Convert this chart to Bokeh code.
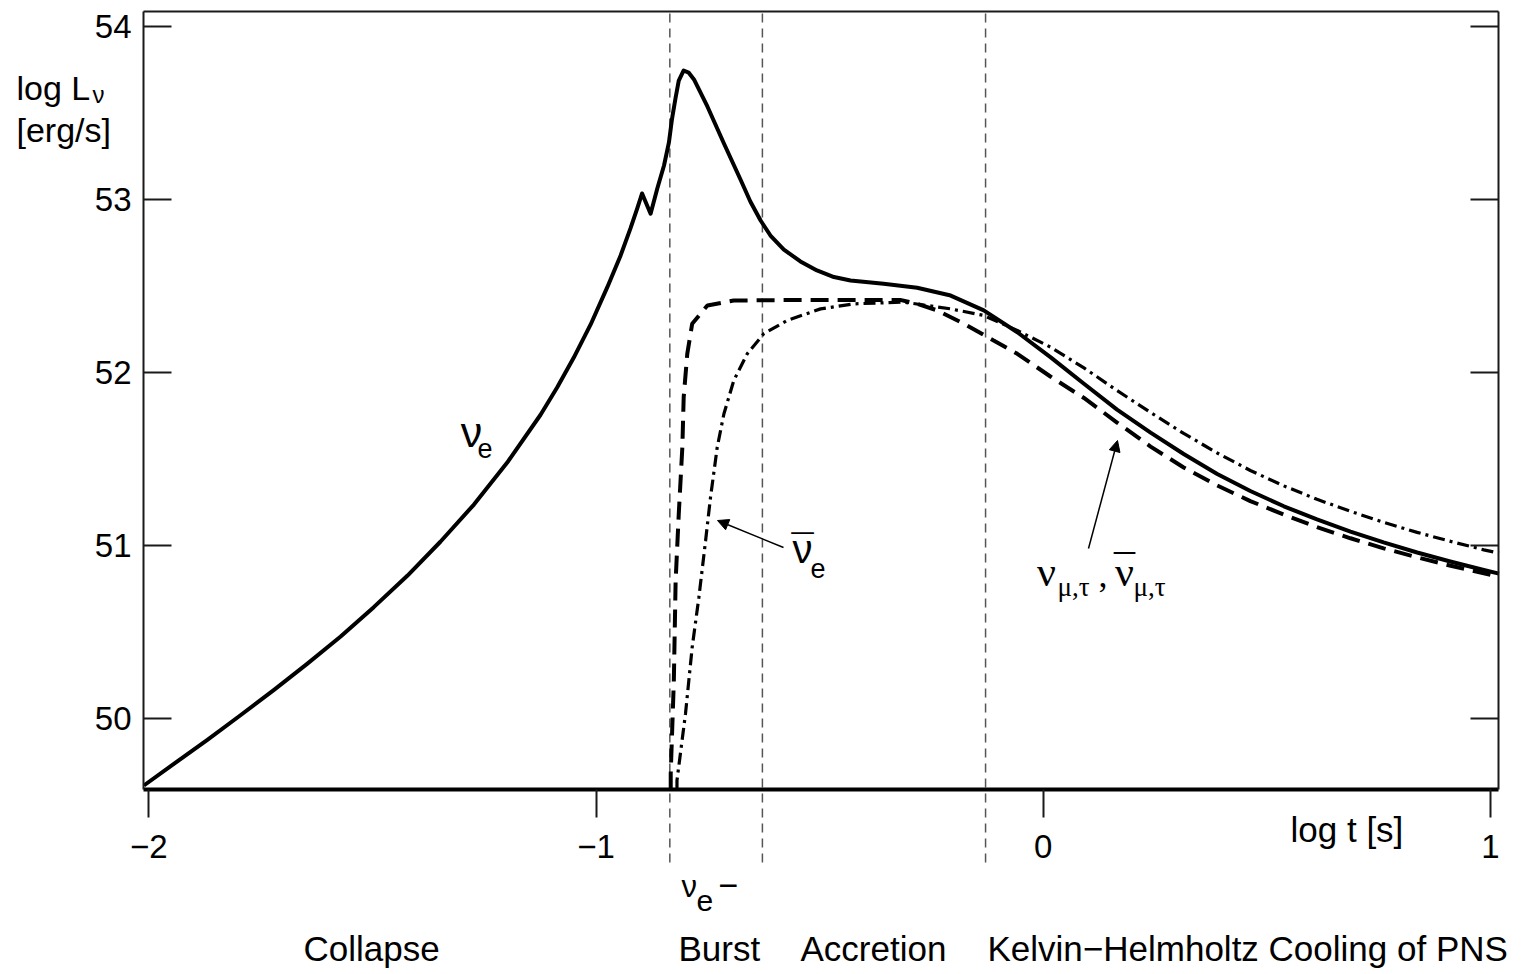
from bokeh.plotting import figure
from bokeh.models import Range1d, LinearAxis, FixedTicker, Label, Arrow, NormalHead
from bokeh.embed import file_html
from bokeh.resources import INLINE

# ---------------- data (log t [s], log L [erg/s]) ----------------
t_nue = [-2.011, -1.944, -1.869, -1.795, -1.720, -1.646, -1.571, -1.497, -1.422, -1.348,
         -1.273, -1.199, -1.124, -1.087, -1.050, -1.012, -0.975, -0.945, -0.923, -0.908,
         -0.897, -0.878, -0.863, -0.848, -0.837, -0.830, -0.822, -0.815, -0.804, -0.793,
         -0.781, -0.751, -0.714, -0.677, -0.655, -0.632, -0.610, -0.580, -0.543, -0.506,
         -0.468, -0.431, -0.357, -0.282, -0.207, -0.133, -0.058, 0.016, 0.091, 0.165,
         0.240, 0.314, 0.389, 0.463, 0.538, 0.612, 0.687, 0.761, 0.836, 0.910,
         0.985, 1.019]
L_nue = [49.611, 49.736, 49.875, 50.017, 50.164, 50.314, 50.472, 50.642, 50.823, 51.020,
         51.235, 51.476, 51.754, 51.912, 52.083, 52.276, 52.490, 52.675, 52.831, 52.946,
         53.033, 52.916, 53.062, 53.195, 53.328, 53.466, 53.588, 53.686, 53.744, 53.732,
         53.692, 53.536, 53.322, 53.114, 52.987, 52.877, 52.790, 52.709, 52.640, 52.588,
         52.550, 52.530, 52.511, 52.488, 52.443, 52.357, 52.231, 52.087, 51.933, 51.784,
         51.651, 51.527, 51.412, 51.313, 51.225, 51.149, 51.079, 51.016, 50.958, 50.906,
         50.857, 50.836]

t_numu = [-0.833, -0.833, -0.826, -0.822, -0.815, -0.807, -0.804, -0.796, -0.785, -0.751,
          -0.692, -0.543, -0.320, -0.282, -0.237, -0.170, -0.111, -0.058, 0.016, 0.091,
          0.165, 0.240, 0.314, 0.389, 0.463, 0.538, 0.612, 0.687, 0.761, 0.836,
          0.911, 0.985, 1.018]
L_numu = [49.588, 49.679, 50.218, 50.796, 51.181, 51.566, 51.855, 52.106, 52.280, 52.386,
          52.414, 52.418, 52.418, 52.395, 52.357, 52.270, 52.183, 52.106, 51.975, 51.851,
          51.709, 51.570, 51.449, 51.345, 51.255, 51.177, 51.104, 51.040, 50.982, 50.930,
          50.881, 50.838, 50.818]

t_nuebar = [-0.819, -0.819, -0.800, -0.785, -0.770, -0.755, -0.744, -0.729, -0.714, -0.692,
            -0.662, -0.625, -0.573, -0.498, -0.424, -0.312, -0.207, -0.133, -0.058, 0.016,
            0.091, 0.165, 0.240, 0.314, 0.389, 0.463, 0.538, 0.612, 0.687, 0.761,
            0.836, 0.911, 0.985, 1.019]
L_nuebar = [49.588, 49.640, 50.025, 50.410, 50.699, 51.027, 51.277, 51.566, 51.760, 51.952,
            52.106, 52.222, 52.299, 52.366, 52.395, 52.405, 52.366, 52.328, 52.241, 52.145,
            52.025, 51.894, 51.767, 51.646, 51.533, 51.432, 51.343, 51.265, 51.196, 51.132,
            51.074, 51.022, 50.973, 50.954]

phase_bounds = [-0.835, -0.628, -0.129]
x_ticks = [-2, -1, 0, 1]
y_ticks = [50, 51, 52, 53, 54]
phase_names = ["Collapse", "Burst", "Accretion", "Kelvin\u2212Helmholtz Cooling of PNS"]

# ---------------- layout helpers (reference pixel -> data) ----------------
PX0, SX = 148.3, 447.23     # x = -2 at px 148.3
PY0, SY = 371.7, 173.0      # y = 52 at px 371.7


def dx(px):
    return -2 + (px - PX0) / SX


def dy(py):
    return 52 - (py - PY0) / SY


SANS = "Liberation Sans"
SERIF = "Liberation Serif"
INK = "#1a1a1a"

p = figure(width=1530, height=974,
           x_range=Range1d(dx(0), dx(1530)), y_range=Range1d(dy(974), dy(0)),
           x_axis_location=None, y_axis_location=None,
           output_backend="svg", toolbar_location=None,
           min_border_left=0, min_border_right=0, min_border_top=0, min_border_bottom=0)
p.xgrid.visible = False
p.ygrid.visible = False
p.background_fill_color = "white"
p.border_fill_color = "white"
p.outline_line_color = None

X_LO, X_HI = dx(143), dx(1498)
Y_LO, Y_HI = dy(789), dy(11)

# bottom axis
xa = LinearAxis(fixed_location=Y_LO, bounds=(X_LO, X_HI), ticker=FixedTicker(ticks=x_ticks),
                major_label_overrides={-2: "\u22122", -1: "\u22121", 0: "0", 1: "1"},
                major_tick_in=0, major_tick_out=28, minor_tick_line_color=None,
                axis_line_width=4, axis_line_color="black",
                major_tick_line_width=2, major_tick_line_color=INK,
                major_label_text_font=SANS, major_label_text_font_size="33px",
                major_label_text_color="black", major_label_standoff=17)
p.add_layout(xa, "below")

# top border
ta = LinearAxis(fixed_location=Y_HI, bounds=(X_LO, X_HI), ticker=FixedTicker(ticks=[]),
                major_tick_line_color=None, minor_tick_line_color=None,
                axis_line_width=2, axis_line_color=INK)
p.add_layout(ta, "above")

# left axis
ya = LinearAxis(fixed_location=X_LO, bounds=(Y_LO, Y_HI), ticker=FixedTicker(ticks=y_ticks),
                major_tick_in=28, major_tick_out=0, minor_tick_line_color=None,
                axis_line_width=2, axis_line_color=INK,
                major_tick_line_width=2, major_tick_line_color=INK,
                major_label_text_font=SANS, major_label_text_font_size="33px",
                major_label_text_color="black", major_label_standoff=12)
p.add_layout(ya, "left")

# right axis (ticks only)
ra = LinearAxis(fixed_location=X_HI, bounds=(Y_LO, Y_HI), ticker=FixedTicker(ticks=y_ticks),
                major_label_overrides={t: "" for t in y_ticks},
                major_tick_in=28, major_tick_out=0, minor_tick_line_color=None,
                axis_line_width=2, axis_line_color=INK,
                major_tick_line_width=2, major_tick_line_color=INK)
p.add_layout(ra, "right")

# phase boundaries (extend below the axis)
p.segment(x0=phase_bounds, y0=[dy(13)] * len(phase_bounds),
          x1=phase_bounds, y1=[dy(863)] * len(phase_bounds),
          line_color="#555555", line_width=1.5, line_dash="9 6")

# curves
p.line(t_nue, L_nue, line_color="black", line_width=4, line_join="round")
p.line(t_numu, L_numu, line_color="black", line_width=4, line_dash="18 9")
p.line(t_nuebar, L_nuebar, line_color="black", line_width=3.2, line_dash="12 5 3 5")


def lab(px, py, text, size, font=SANS, align="left"):
    # py is the reference baseline; shift to compensate the renderer's baseline offset
    s = float(size.replace("px", ""))
    p.add_layout(Label(x=dx(px), y=dy(py - 0.37 * s), text=text, text_font=font,
                       text_font_size=size, text_align=align, text_baseline="alphabetic",
                       text_color="black"))


# y axis title
lab(16, 100, "log L", "34px")
lab(92, 103, "\u03bd", "24px")
lab(16, 142, "[erg/s]", "34px")
# x axis title
lab(1290, 842, "log t [s]", "35px")

# curve labels
lab(471, 447, "\u03bd", "43px", align="center")
lab(477, 458, "e", "27px")

lab(802, 563, "\u03bd", "40px", align="center")
lab(802, 563, "\u00af", "40px", align="center")
lab(810, 578, "e", "27px")

lab(1046, 587, "\u03bd", "42px", SERIF, align="center")
lab(1057, 596, "\u03bc,\u03c4", "27px", SERIF)
lab(1098, 588, ",", "36px", SERIF)
lab(1124, 587, "\u03bd", "42px", SERIF, align="center")
lab(1124, 585, "\u00af", "42px", SERIF, align="center")
lab(1133, 596, "\u03bc,\u03c4", "27px", SERIF)

# arrows to curves
p.add_layout(Arrow(end=NormalHead(size=11, fill_color="black", line_color="black"),
                   x_start=dx(783), y_start=dy(547), x_end=dx(717), y_end=dy(520),
                   line_color="black", line_width=1.5))
p.add_layout(Arrow(end=NormalHead(size=11, fill_color="black", line_color="black"),
                   x_start=dx(1088), y_start=dy(548), x_end=dx(1117), y_end=dy(440),
                   line_color="black", line_width=1.5))

# phase names below axis
lab(681, 897, "\u03bd", "31px")
lab(696, 912, "e", "30px")
lab(718, 898, "\u2212", "34px")
lab(371, 961, phase_names[0], "35px", align="center")
lab(678, 961, phase_names[1], "35px")
lab(800, 961, phase_names[2], "35px")
lab(987, 961, phase_names[3], "35px")

open("out.html", "w").write(file_html(p, INLINE))
